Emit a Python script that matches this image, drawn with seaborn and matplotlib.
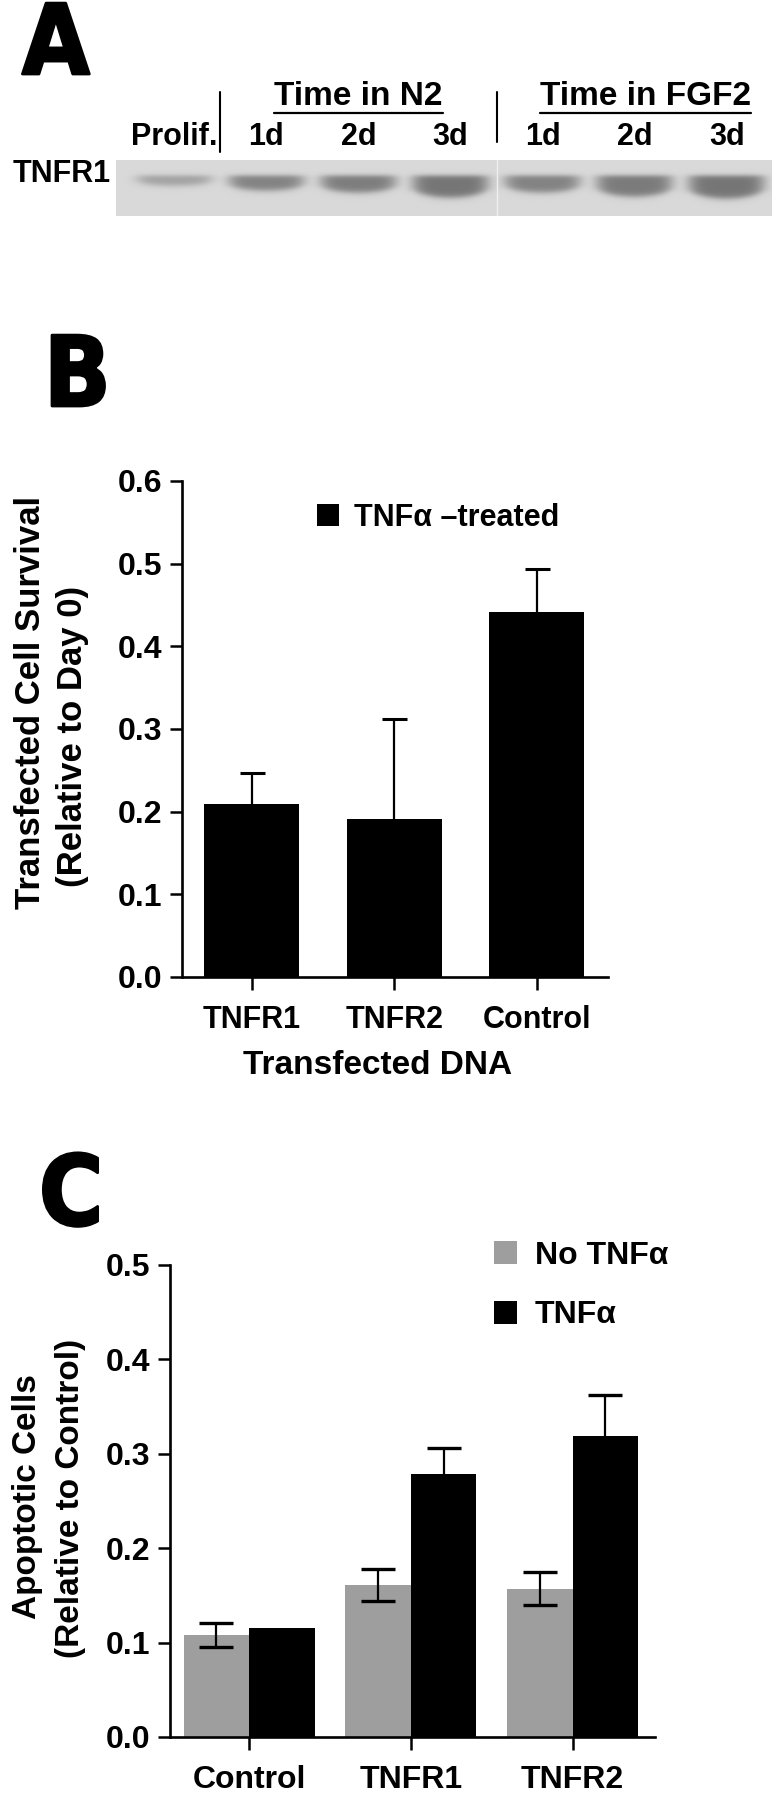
import numpy as np
import pandas as pd
import matplotlib
matplotlib.use("Agg")
import matplotlib.pyplot as plt
import matplotlib.patheffects as pe
from matplotlib.lines import Line2D
import seaborn as sns

# ---- data ----
# Panel A: western blot, TNFR1 band per lane
blot_lanes = ["Prolif.", "1d", "2d", "3d", "1d", "2d", "3d"]
band_intensity = [0.22, 0.34, 0.36, 0.39, 0.34, 0.37, 0.39]
band_thickness = [10, 15, 17, 22, 17, 21, 23]
groups = ["Time in N2", "Time in FGF2"]

# Panel B: transfected cell survival, TNFa-treated
dna_b = ["TNFR1", "TNFR2", "Control"]
survival_b = [0.209, 0.191, 0.441]
survival_err_b = [0.038, 0.121, 0.052]

# Panel C: apoptotic cells
dna_c = ["Control", "TNFR1", "TNFR2"]
apopt_no_tnf = [0.108, 0.161, 0.157]
apopt_no_tnf_err = [0.013, 0.0165, 0.0175]
apopt_tnf = [0.1155, 0.279, 0.319]
apopt_tnf_err = [0.0, 0.027, 0.043]

sns.set_theme(style="ticks")
plt.rcParams["font.family"] = ["Liberation Sans", "DejaVu Sans"]
plt.rcParams["font.weight"] = "bold"
for key in ["text.color", "axes.labelcolor", "xtick.color", "ytick.color", "axes.edgecolor"]:
    plt.rcParams[key] = "black"

W, H = 774, 1800
fig = plt.figure(figsize=(W / 100, H / 100), dpi=100)


def px_axes(left, top, right, bottom):
    return fig.add_axes([left / W, 1 - bottom / H, (right - left) / W, (bottom - top) / H])


# panel letters
heavy = [pe.withStroke(linewidth=2, foreground="black")]
for letter, x, y in [("A", 22, 1), ("B", 44, 333), ("C", 39, 1152)]:
    fig.text(x / W, 1 - y / H, letter, fontsize=70, fontweight="bold",
             family="DejaVu Sans", fontstretch="condensed",
             color="black", ha="left", va="top", path_effects=heavy)

# ---- Panel A ----
axA = px_axes(116, 160, 772, 216)
x0, x1 = -0.63, 6.49
xs = np.linspace(x0, x1, 660)
ys = np.linspace(0, 56, 113)
img = np.full((len(ys), len(xs)), 0.15)
for i, (inten, th) in enumerate(zip(band_intensity, band_thickness)):
    dx = (xs - i) / 0.42
    hx = np.exp(-np.abs(dx) ** 6)
    top = 15.5
    bottom = top + th * (1 - 0.3 * np.clip(dx ** 2, 0, 1))
    vy = 1 / (1 + np.exp(-(ys[:, None] - top) / 1.3)) * \
        1 / (1 + np.exp(-(bottom[None, :] - ys[:, None]) / 1.8))
    img += inten * hx[None, :] * vy
axA.imshow(img, cmap="gray_r", vmin=0, vmax=1, extent=(x0, x1, 56, 0),
           aspect="auto", interpolation="bilinear")
axA.axvline(3.5, color="#efefef", lw=1)
axA.set_xlim(x0, x1)
axA.set_ylim(56, 0)
axA.set_xticks(range(len(blot_lanes)))
axA.set_xticklabels(blot_lanes, fontsize=22, fontweight="bold")
axA.xaxis.tick_top()
axA.set_yticks([11])
axA.set_yticklabels(["TNFR1"], fontsize=22, fontweight="bold")
axA.tick_params(length=0, pad=6)
axA.tick_params(axis="y", pad=4)
for s in axA.spines.values():
    s.set_visible(False)

trA = axA.get_xaxis_transform()
axA.plot([0.5, 0.5], [1.14, 2.21], color="black", lw=1.5, transform=trA, clip_on=False)
axA.plot([3.5, 3.5], [1.32, 2.21], color="black", lw=1.5, transform=trA, clip_on=False)
heads = []
for g, centre in zip(groups, [2, 5.12]):
    heads.append(axA.text(centre, 1.98, g, transform=trA, ha="center", va="baseline",
                          fontsize=24, fontweight="bold"))

# ---- Panel B ----
axB = px_axes(182, 481, 608, 977)
df_b = pd.DataFrame({"dna": dna_b, "survival": survival_b})
sns.barplot(data=df_b, x="dna", y="survival", color="black", saturation=1,
            width=0.667, errorbar=None, linewidth=0, ax=axB, label="TNFα –treated")
for patch, err in zip(axB.patches, survival_err_b):
    axB.errorbar(patch.get_x() + patch.get_width() / 2, patch.get_height(), yerr=err,
                 fmt="none", ecolor="black", elinewidth=1.6, capsize=9, capthick=2.2)
axB.set_xlim(-0.49, 2.50)
axB.set_ylim(0, 0.6)
axB.set_yticks([0.0, 0.1, 0.2, 0.3, 0.4, 0.5, 0.6])
axB.set_yticklabels([f"{v:.1f}" for v in axB.get_yticks()])
sns.despine(ax=axB)
for s in ["left", "bottom"]:
    axB.spines[s].set_linewidth(1.9)
axB.tick_params(axis="both", length=9, width=1.8, color="black")
axB.tick_params(axis="y", labelsize=23, pad=5)
axB.tick_params(axis="x", labelsize=22, pad=11)
for lab in axB.get_xticklabels() + axB.get_yticklabels():
    lab.set_fontweight("bold")
axB.set_ylabel("")
axB.set_xlabel("Transfected DNA", fontsize=24, fontweight="bold")
axB.xaxis.set_label_coords(0.458, -0.147)
axB.xaxis.label.set_va("top")
axB.legend(loc="upper left", bbox_to_anchor=(317 / W, 1 - 503 / H),
           bbox_transform=fig.transFigure, frameon=False, borderpad=0, borderaxespad=0,
           handlelength=0.72, handleheight=0.72, handletextpad=0.5,
           prop={"size": 22, "weight": "bold"})
fig.text(31 / W, 1 - 702 / H, "Transfected Cell Survival", rotation=90,
         ha="center", va="center", fontsize=25, fontweight="bold")
fig.text(73 / W, 1 - 736 / H, "(Relative to Day 0)", rotation=90,
         ha="center", va="center", fontsize=25, fontweight="bold")

# ---- Panel C ----
axC = px_axes(170, 1265, 655, 1737)
df_c = pd.DataFrame({
    "dna": dna_c * 2,
    "value": apopt_no_tnf + apopt_tnf,
    "treatment": ["No TNFα"] * 3 + ["TNFα"] * 3,
})
sns.barplot(data=df_c, x="dna", y="value", hue="treatment",
            palette={"No TNFα": "#9e9e9e", "TNFα": "black"}, saturation=1,
            width=0.81, errorbar=None, linewidth=0, ax=axC)
for cont, errs in zip(axC.containers, [apopt_no_tnf_err, apopt_tnf_err]):
    for patch, err in zip(cont.patches, errs):
        if err > 0:
            axC.errorbar(patch.get_x() + patch.get_width() / 2, patch.get_height(),
                         yerr=err, fmt="none", ecolor="black", elinewidth=1.6,
                         capsize=12, capthick=2.4)
axC.set_xlim(-0.49, 2.51)
axC.set_ylim(0, 0.5)
axC.set_yticks([0.0, 0.1, 0.2, 0.3, 0.4, 0.5])
axC.set_yticklabels([f"{v:.1f}" for v in axC.get_yticks()])
sns.despine(ax=axC)
for s in ["left", "bottom"]:
    axC.spines[s].set_linewidth(1.9)
axC.tick_params(axis="both", length=9, width=1.8, color="black")
axC.tick_params(axis="y", labelsize=23, pad=5)
axC.tick_params(axis="x", labelsize=23, pad=11)
for lab in axC.get_xticklabels() + axC.get_yticklabels():
    lab.set_fontweight("bold")
axC.set_xlabel("")
axC.set_ylabel("")
axC.legend(loc="upper left", bbox_to_anchor=(494 / W, 1 - 1241 / H),
           bbox_transform=fig.transFigure, frameon=False, borderpad=0, borderaxespad=0,
           handlelength=0.72, handleheight=0.72, handletextpad=0.55, labelspacing=0.92,
           title=None, prop={"size": 23, "weight": "bold"})
fig.text(28 / W, 1 - 1497 / H, "Apoptotic Cells", rotation=90,
         ha="center", va="center", fontsize=24, fontweight="bold")
fig.text(71 / W, 1 - 1498 / H, "(Relative to Control)", rotation=90,
         ha="center", va="center", fontsize=24, fontweight="bold")

# underline the blot group headings
fig.canvas.draw()
inv = fig.transFigure.inverted()
for t in heads:
    bb = t.get_window_extent()
    (fx0, fy0), (fx1, _) = inv.transform([[bb.x0, bb.y0], [bb.x1, bb.y0]])
    fig.add_artist(Line2D([fx0, fx1], [fy0 - 1 / H, fy0 - 1 / H], color="black",
                          lw=1.6, transform=fig.transFigure))

fig.savefig("out.png", dpi=100)
